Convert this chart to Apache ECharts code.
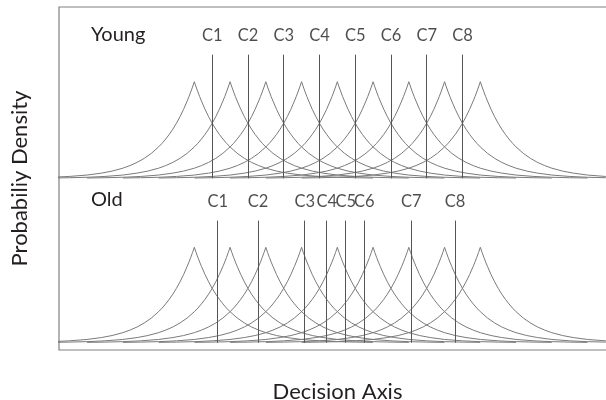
<!DOCTYPE html>
<html>
<head>
<meta charset="utf-8">
<script src="https://cdn.jsdelivr.net/npm/echarts@6/dist/echarts.min.js"></script>
<style>html,body{margin:0;padding:0;background:#fff}#c{width:606px;height:400px}</style>
</head>
<body>
<div id="c"></div>
<script>
// ---- data ----
const peakMeans = [0, 1, 2, 3, 4, 5, 6, 7, 8];
const youngCriteria = [0.5, 1.5, 2.5, 3.5, 4.5, 5.5, 6.5, 7.5];
const oldCriteria = [0.655, 1.78, 3.088, 3.704, 4.234, 4.755, 6.07, 7.293];
const criterionLabels = ['C1', 'C2', 'C3', 'C4', 'C5', 'C6', 'C7', 'C8'];
const panelNames = ['Young', 'Old'];
// one density curve, read as height (peak = 1) at a distance from its peak
const profileOffsets = [0, 0.05, 0.1, 0.15, 0.2, 0.3, 0.4, 0.5, 0.6, 0.7, 0.8, 0.9, 1.0, 1.2, 1.4, 1.6, 1.8, 2.0, 2.3, 2.6, 3.0, 3.5, 4.0, 4.5, 5.0];
const profileHeights = [1, 0.945, 0.894, 0.845, 0.8, 0.714, 0.638, 0.57, 0.509, 0.455, 0.407, 0.363, 0.325, 0.259, 0.207, 0.165, 0.132, 0.105, 0.075, 0.054, 0.034, 0.0195, 0.011, 0.0063, 0.0036];
const criterionTop = 1.28;
const criterionLabelY = 1.48;

const FONT = 'Lato';
const curveColor = '#7a7a7a';
const critColor = '#555555';
const textColor = '#231f20';

function curveData(m) {
  const pts = [];
  for (let i = profileOffsets.length - 1; i > 0; i--) pts.push([m - profileOffsets[i], profileHeights[i]]);
  for (let i = 0; i < profileOffsets.length; i++) pts.push([m + profileOffsets[i], profileHeights[i]]);
  return pts;
}

const series = [];
[youngCriteria, oldCriteria].forEach((crit, p) => {
  peakMeans.forEach(m => {
    series.push({
      type: 'line', xAxisIndex: p, yAxisIndex: p, data: curveData(m),
      showSymbol: false, symbol: 'none', silent: true, animation: false,
      lineStyle: { color: curveColor, width: 1 }, clip: true
    });
  });
  series.push({
    type: 'scatter', xAxisIndex: p, yAxisIndex: p, symbolSize: 0, silent: true, animation: false,
    data: crit.map((c, i) => ({ value: [c, criterionLabelY], name: criterionLabels[i] })),
    label: { show: true, position: 'inside', formatter: d => d.name, color: textColor, fontSize: 16.5, fontFamily: FONT },
    markLine: {
      silent: true, symbol: 'none', animation: false,
      label: { show: false },
      lineStyle: { color: critColor, width: 1, type: 'solid' },
      data: crit.map(c => [{ coord: [c, 0] }, { coord: [c, criterionTop] }])
    }
  });
});

const xMin = -3.785, xMax = 11.795;
const hiddenX = i => ({ type: 'value', gridIndex: i, min: xMin, max: xMax, show: false });

const option = {
  animation: false,
  title: [
    { text: panelNames[0], left: 91, top: 25, padding: 0, textStyle: { fontSize: 20, fontWeight: 'normal', color: textColor, fontFamily: FONT } },
    { text: panelNames[1], left: 91, top: 190, padding: 0, textStyle: { fontSize: 20, fontWeight: 'normal', color: textColor, fontFamily: FONT } }
  ],
  grid: [
    { left: 59, top: 7, width: 557, height: 178.1, containLabel: false, outerBoundsMode: 'none' },
    { left: 59, top: 185, width: 557, height: 165, containLabel: false, outerBoundsMode: 'none' },
    { left: 59, top: 7, width: 557, height: 343, show: true, borderColor: '#808080', borderWidth: 1.2, backgroundColor: 'transparent', containLabel: false, outerBoundsMode: 'none' }
  ],
  xAxis: [
    hiddenX(0), hiddenX(1),
    { type: 'value', gridIndex: 2, min: 0, max: 1, name: 'Decision Axis', nameLocation: 'middle', nameGap: 31,
      nameTextStyle: { fontSize: 22, color: textColor, fontFamily: FONT },
      axisLine: { show: false }, axisTick: { show: false }, axisLabel: { show: false }, splitLine: { show: false } }
  ],
  yAxis: [
    { type: 'value', gridIndex: 0, min: -0.07, max: 1.773, show: false },
    { type: 'value', gridIndex: 1, min: -0.0765, max: 1.653, show: false },
    { type: 'value', gridIndex: 2, min: 0, max: 1, name: 'Probabiliy Density', nameLocation: 'middle', nameGap: 28, nameRotate: 90,
      nameTextStyle: { fontSize: 22, color: textColor, fontFamily: FONT },
      axisLine: { show: false }, axisTick: { show: false }, axisLabel: { show: false }, splitLine: { show: false } }
  ],
  series: series
};

const chart = echarts.init(document.getElementById('c'), null, { renderer: 'canvas' });
chart.setOption(option);
</script>
</body>
</html>
